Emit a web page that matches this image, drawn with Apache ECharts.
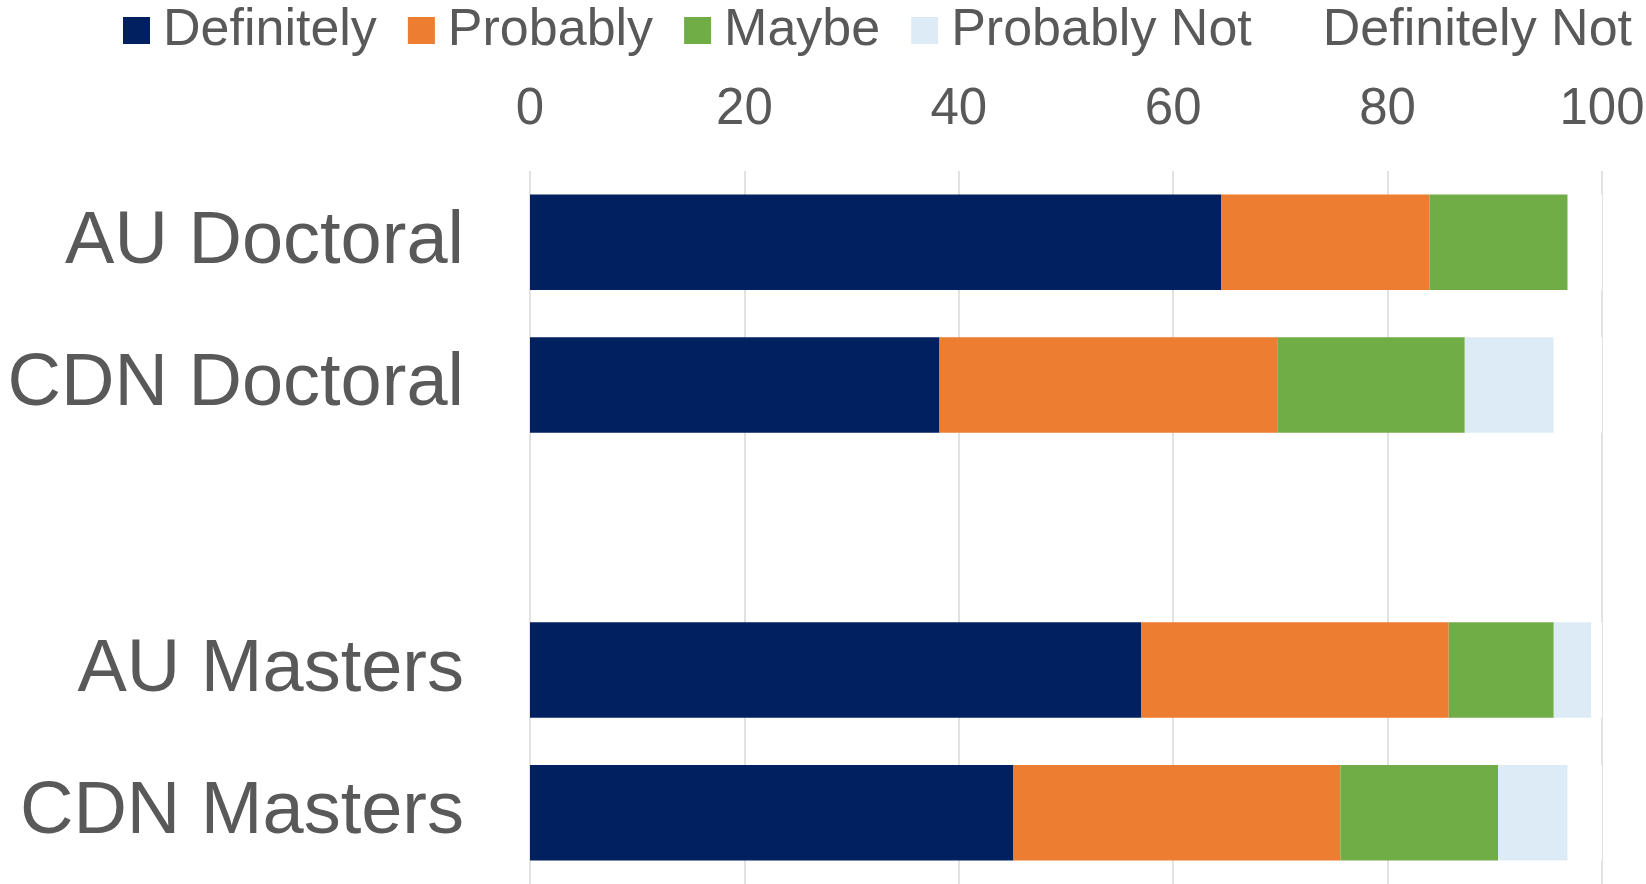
<!DOCTYPE html>
<html>
<head>
<meta charset="utf-8">
<title>Likelihood by program</title>
<script src="https://cdn.jsdelivr.net/npm/echarts@6/dist/echarts.min.js"></script>
<style>
  html, body { margin: 0; padding: 0; background: #ffffff; }
  #chart { width: 1646px; height: 884px; }
</style>
</head>
<body>
<div id="chart"></div>
<script>
// Program groups (blank row separates doctoral from masters)
const categories = ['AU Doctoral', 'CDN Doctoral', '', 'AU Masters', 'CDN Masters'];

// Percent of respondents per answer
const definitely    = [64.5, 38.2, null, 57.0, 45.1];
const probably      = [19.4, 31.5, null, 28.7, 30.5];
const maybe         = [12.9, 17.5, null,  9.8, 14.7];
const probablyNot   = [ 0.0,  8.3, null,  3.5,  6.5];
const definitelyNot = [ 3.2,  4.5, null,  1.0,  3.2];

const seriesNames = ['Definitely', 'Probably', 'Maybe', 'Probably Not', 'Definitely Not'];
const seriesColors = ['#00205F', '#ED7D31', '#70AD47', '#DDEBF7', '#FFFFFF'];
const seriesValues = [definitely, probably, maybe, probablyNot, definitelyNot];

const xTicks = [0, 20, 40, 60, 80, 100];

const font = '"Liberation Sans", Arial, sans-serif';
const textColor = '#595959';

const chart = echarts.init(document.getElementById('chart'), null, { renderer: 'canvas' });

chart.setOption({
  animation: false,
  backgroundColor: '#ffffff',
  textStyle: { fontFamily: font },
  legend: {
    left: 123,
    top: 0,
    padding: 0,
    itemWidth: 27,
    itemHeight: 27,
    itemGap: 31,
    icon: 'rect',
    textStyle: {
      fontSize: 52,
      color: textColor,
      fontFamily: font,
      padding: [0, 0, 9, 8],
      lineHeight: 52
    },
    data: seriesNames
  },
  grid: {
    left: 530,
    right: 44,
    top: 171,
    bottom: 0,
    containLabel: false,
    outerBoundsMode: 'none'
  },
  xAxis: {
    type: 'value',
    position: 'top',
    min: xTicks[0],
    max: xTicks[xTicks.length - 1],
    interval: 20,
    axisLine: { show: false },
    axisTick: { show: false },
    axisLabel: {
      fontSize: 51,
      color: textColor,
      fontFamily: font,
      margin: 36
    },
    splitLine: { show: true, lineStyle: { color: '#D9D9D9', width: 1.5 } }
  },
  yAxis: {
    type: 'category',
    inverse: true,
    data: categories,
    axisLine: { show: false },
    axisTick: { show: false },
    axisLabel: {
      fontSize: 74,
      color: textColor,
      fontFamily: font,
      margin: 66
    },
    splitLine: { show: false }
  },
  series: seriesNames.map((name, i) => ({
    name: name,
    type: 'bar',
    stack: 'total',
    barWidth: '67%',
    data: seriesValues[i],
    itemStyle: { color: seriesColors[i] },
    emphasis: { disabled: true }
  }))
});
</script>
</body>
</html>
